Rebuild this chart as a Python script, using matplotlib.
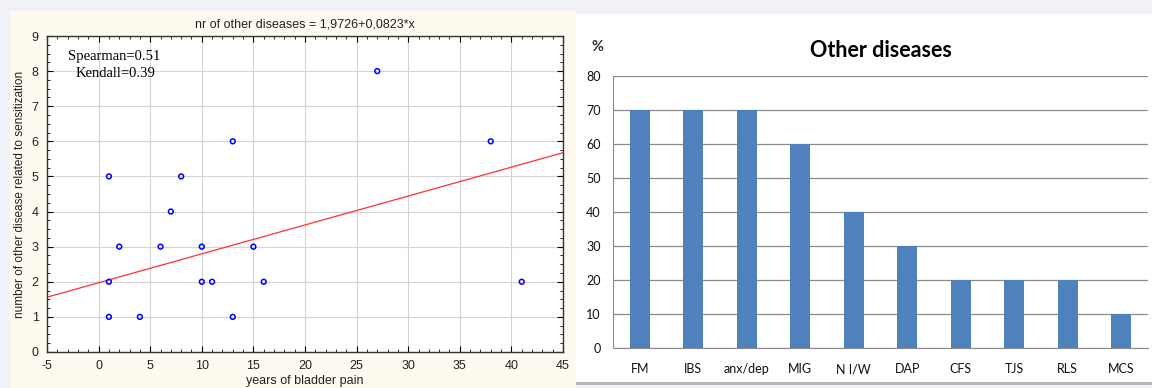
import matplotlib.pyplot as plt
from matplotlib.patches import Rectangle
from matplotlib.ticker import MultipleLocator

plt.rcParams["axes.unicode_minus"] = False

# scatter data: years of bladder pain vs number of other diseases
years = [1, 1, 1, 2, 4, 6, 7, 8, 10, 10, 11, 13, 13, 15, 16, 27, 38, 41]
n_diseases = [5, 2, 1, 3, 1, 3, 4, 5, 3, 2, 2, 6, 1, 3, 2, 8, 6, 2]
intercept = 1.9726
slope = 0.0823

# bar data
categories = ["FM", "IBS", "anx/dep", "MIG", "N I/W", "DAP", "CFS", "TJS", "RLS", "MCS"]
percent = [70, 70, 70, 60, 40, 30, 20, 20, 20, 10]

W, H = 1152, 388
fig = plt.figure(figsize=(W / 100, H / 100), dpi=100)
fig.patch.set_facecolor("#f0f2f8")

def px_rect(x0, y0, x1, y1, color):
    # rectangle given in pixel coords (top-left origin)
    fig.patches.append(Rectangle((x0 / W, 1 - y1 / H), (x1 - x0) / W, (y1 - y0) / H,
                                 transform=fig.transFigure, facecolor=color,
                                 edgecolor="none", zorder=-10))

px_rect(10, 11, 576, 388, "#fffaf0")
px_rect(576, 14, 1152, 382, "#ffffff")
px_rect(576, 382, 1152, 385, "#b8b8b8")

# ---- left: scatter with regression line ----
sans = "Liberation Sans"
ax1 = fig.add_axes([47 / W, 1 - 352 / H, (563 - 47) / W, (352 - 36) / H])
ax1.set_facecolor("white")
ax1.scatter(years, n_diseases, s=12, facecolors="none", edgecolors="#0000ff",
            linewidths=1.1, zorder=3)
xs = [-5, 45]
ax1.plot(xs, [intercept + slope * x for x in xs], color="#ff3030", lw=0.9, zorder=2)
ax1.set_xlim(-5, 45)
ax1.set_ylim(0, 9)
ax1.xaxis.set_major_locator(MultipleLocator(5))
ax1.xaxis.set_minor_locator(MultipleLocator(1))
ax1.yaxis.set_major_locator(MultipleLocator(1))
ax1.yaxis.set_minor_locator(MultipleLocator(0.25))
ax1.grid(True, which="major", color="#d4d4d4", lw=0.8)
ax1.set_axisbelow(True)
ax1.tick_params(which="both", direction="in", top=True, right=True, labelsize=9,
                colors="#000000", labelcolor="#222222")
ax1.tick_params(axis="x", which="major", length=4, pad=6)
ax1.tick_params(axis="y", which="major", length=4, pad=6)
ax1.tick_params(which="minor", length=2)
for lab in ax1.get_xticklabels() + ax1.get_yticklabels():
    lab.set_family(sans)
for sp in ax1.spines.values():
    sp.set_color("#333333")
    sp.set_linewidth(1.0)
ax1.set_title("nr of other diseases = 1,9726+0,0823*x", fontsize=9, pad=6,
              color="#222222", family=sans)
ax1.set_xlabel("years of bladder pain", fontsize=9, labelpad=2, color="#222222", family=sans)
ax1.set_ylabel("number of other disease related to sensitization", fontsize=8.5, labelpad=4,
               color="#222222", family=sans)
ax1.text(0.04, 0.935, "Spearman=0.51", transform=ax1.transAxes, fontsize=10.5,
         family="Liberation Serif", va="center")
ax1.text(0.055, 0.88, "Kendall=0.39", transform=ax1.transAxes, fontsize=10.5,
         family="Liberation Serif", va="center")

# ---- right: bar chart ----
ax2 = fig.add_axes([613 / W, 1 - 348 / H, (1148 - 613) / W, (348 - 76) / H])
ax2.set_facecolor("white")
pos = list(range(len(categories)))
ax2.bar(pos, percent, width=0.38, color="#4f81bd", zorder=3)
ax2.set_xlim(-0.5, len(categories) - 0.5)
ax2.set_ylim(0, 80)
ax2.yaxis.set_major_locator(MultipleLocator(10))
ax2.grid(True, axis="y", color="#8c8c8c", lw=0.9)
ax2.set_axisbelow(True)
ax2.set_xticks(pos)
ax2.set_xticklabels(categories, family="Lato", fontsize=9)
for lab in ax2.get_yticklabels():
    lab.set_family("Lato")
ax2.tick_params(axis="x", length=0, pad=11, labelcolor="#111111")
ax2.tick_params(axis="y", length=0, pad=9, labelsize=9, labelcolor="#111111")
for side in ["top", "right"]:
    ax2.spines[side].set_visible(False)
ax2.spines["left"].set_color("#8c8c8c")
ax2.spines["bottom"].set_color("#8c8c8c")
ax2.set_title("Other diseases", fontsize=15.5, fontweight="bold", family="Lato", pad=14)
fig.text(598 / W, 1 - 47 / H, "%", fontsize=10.5, family="Lato", fontweight="bold",
         color="#333333", ha="center", va="center")

fig.savefig("out.png", dpi=100, facecolor=fig.get_facecolor())
